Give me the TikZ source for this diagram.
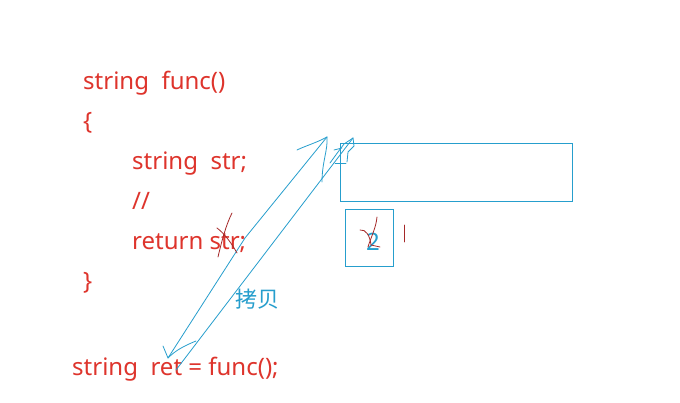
\documentclass[tikz,border=0pt]{standalone}
\usepackage{fontspec}
\setmainfont{Noto Sans}
\newfontfamily\cjkfont{Noto Sans CJK SC}
\definecolor{codered}{RGB}{222,52,44}
\definecolor{inkblue}{RGB}{38,158,205}
\definecolor{inkred}{RGB}{165,40,40}
\tikzset{
  code/.style={anchor=base west, inner sep=0pt, text=codered, font=\fontsize{24}{24}\selectfont},
  ink/.style={draw=inkblue, line width=0.8pt, line cap=round, line join=round},
  redink/.style={draw=inkred, line width=0.8pt, line cap=round, line join=round},
  membox/.style={draw=inkblue, line width=1pt, inner sep=0pt, anchor=north west},
}
\begin{document}
\begin{tikzpicture}[x=1pt,y=-1pt]
\useasboundingbox[fill=white] (0,0) rectangle (680,403);
% code text
\node[code] (l1) at (83,90) {string\ \ func()};
\node[code] (l2) at (83,130) {\{};
\node[code] (l3) at (132,170) {string\ \ str;};
\node[code] (l4) at (132,210) {//};
\node[code] (l5) at (132,250) {return str;};
\node[code] (l6) at (83,290) {\}};
\node[code] (l7) at (72,375) {string\ \ ret = func();};
% memory boxes
\node[membox, minimum width=232pt, minimum height=58pt] (mem) at (340,143) {};
\node[membox, minimum width=48pt, minimum height=57pt] (cnt) at (345,209) {};
\node[text=inkblue, inner sep=0pt, font=\fontsize{24}{24}\selectfont] (two) at (373,242) {2};
% label
\node[text=inkblue, inner sep=0pt, font=\cjkfont\fontsize{22}{22}\selectfont] (copy) at (257,299) {拷贝};
% hand-drawn arrows
\coordinate (retA) at (168,358);
\coordinate (retB) at (176,370);
\coordinate (topA) at (327,137);
\coordinate (topB) at (353,138);
\draw[ink] (retA) -- (245,238) -- (topA);
\draw[ink] (retB) -- (topB);
% arrowhead at ret
\draw[ink] (163,346) -- (retA) .. controls (176,350) and (184,346) .. (196,341);
% arrowhead at top of left line
\draw[ink] (297,150) .. controls (305,146) and (316,143) .. (topA) .. controls (328,150) and (322,162) .. (322,182);
% squiggle at top of right line
\draw[ink] (330,163) -- (338,152) -- (344,144) -- (topB) -- (354,146) -- (348,152) -- (347,162);
\draw[ink] (334,150) -- (342,148);
\draw[ink] (335,163) -- (346,163);
% red marks
\draw[redink] (217,228) .. controls (225,234) and (232,244) .. (237,253);
\draw[redink] (232,213) .. controls (226,225) and (222,240) .. (218,257);
\draw[redink] (360,230) .. controls (366,229) and (370,236) .. (371,245) -- (380,247);
\draw[redink] (377,217) .. controls (376,228) and (371,237) .. (368,247);
\draw[redink] (404,225) -- (404,242);
\end{tikzpicture}
\end{document}
